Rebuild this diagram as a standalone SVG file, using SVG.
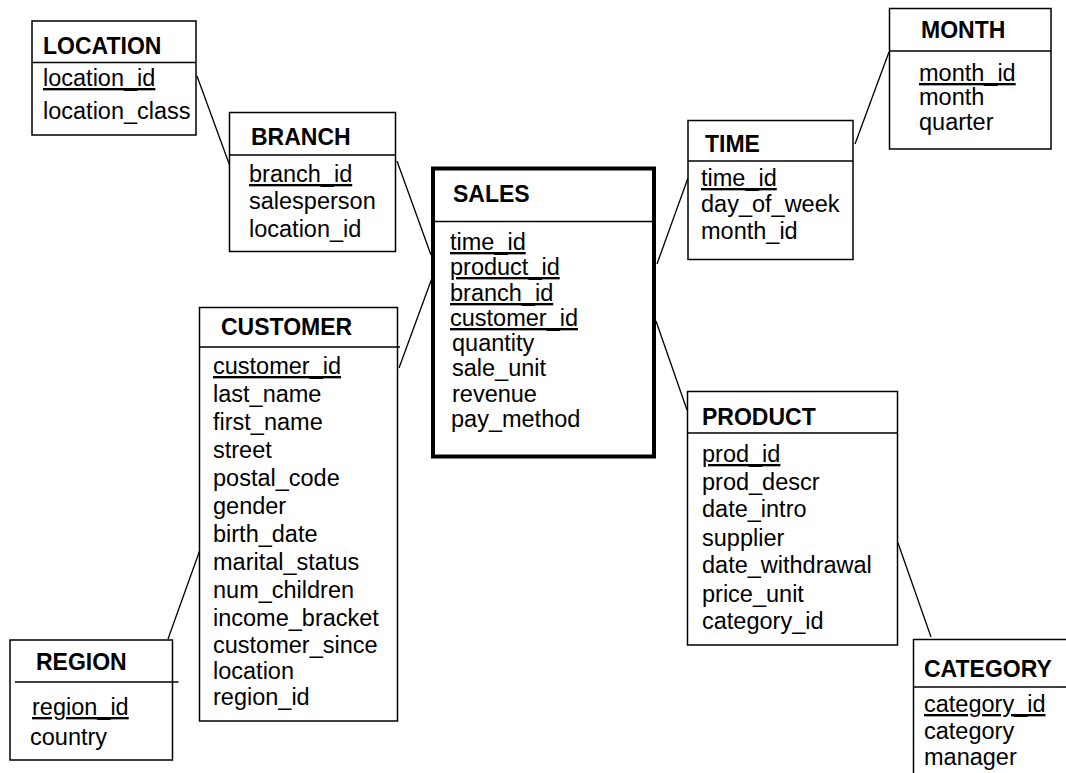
<svg xmlns="http://www.w3.org/2000/svg" width="1066" height="773" viewBox="0 0 1066 773">
<style>
.box{fill:#fff;stroke:#000;stroke-width:1.5}
.div{stroke:#000;stroke-width:1.5}
.t{font-family:"Liberation Sans",Arial,sans-serif;font-size:23px;font-weight:bold;fill:#000}
.f{font-family:"Liberation Sans",Arial,sans-serif;font-size:23.5px;fill:#000}
.k{text-decoration:underline}
.c{stroke:#000;stroke-width:1.3;fill:none}
</style>
<rect width="1066" height="773" fill="#fff"/>
<g id="connectors">
<line class="c" x1="197" y1="76" x2="231" y2="169"/>
<line class="c" x1="397" y1="161" x2="431" y2="255"/>
<line class="c" x1="399" y1="368" x2="432" y2="278"/>
<line class="c" x1="657" y1="264" x2="688" y2="178"/>
<line class="c" x1="855" y1="144" x2="889" y2="52"/>
<line class="c" x1="656" y1="321" x2="687" y2="410"/>
<line class="c" x1="201" y1="547" x2="168" y2="639"/>
<line class="c" x1="898" y1="543" x2="931" y2="637"/>
</g>
<g id="location">
<rect class="box" x="32" y="21" width="164" height="114"/>
<line class="div" x1="32" y1="62.5" x2="196" y2="62.5"/>
<text class="t" x="43" y="54">LOCATION</text>
<text class="f k" x="43" y="86">location_id</text>
<text class="f" x="43" y="119">location_class</text>
</g>
<g id="branch">
<rect class="box" x="229.5" y="112.5" width="166" height="139"/>
<line class="div" x1="229.5" y1="155" x2="395.5" y2="155"/>
<text class="t" x="251" y="145">BRANCH</text>
<text class="f k" x="249" y="182">branch_id</text>
<text class="f" x="249" y="209">salesperson</text>
<text class="f" x="249" y="237">location_id</text>
</g>
<g id="sales">
<rect x="433" y="168.5" width="221" height="288" fill="#fff" stroke="#000" stroke-width="4"/>
<line class="div" x1="433" y1="221.5" x2="654" y2="221.5"/>
<text class="t" x="453" y="202">SALES</text>
<text class="f k" x="450" y="250">time_id</text>
<text class="f k" x="450" y="275">product_id</text>
<text class="f k" x="450" y="301">branch_id</text>
<text class="f k" x="450" y="326">customer_id</text>
<text class="f" x="452" y="351">quantity</text>
<text class="f" x="452" y="376">sale_unit</text>
<text class="f" x="452" y="402">revenue</text>
<text class="f" x="451" y="427">pay_method</text>
</g>
<g id="time">
<rect class="box" x="688" y="120.5" width="165" height="139"/>
<line class="div" x1="688" y1="161" x2="853" y2="161"/>
<text class="t" x="705" y="152">TIME</text>
<text class="f k" x="701" y="186">time_id</text>
<text class="f" x="701" y="212">day_of_week</text>
<text class="f" x="701" y="239">month_id</text>
</g>
<g id="month">
<rect class="box" x="889.5" y="8.5" width="161.5" height="140.5"/>
<line class="div" x1="889.5" y1="51" x2="1051" y2="51"/>
<text class="t" x="921" y="38">MONTH</text>
<text class="f k" x="919" y="81">month_id</text>
<text class="f" x="919" y="105">month</text>
<text class="f" x="919" y="130">quarter</text>
</g>
<g id="customer">
<rect class="box" x="199.5" y="307.5" width="198" height="413.5"/>
<line class="div" x1="199.5" y1="347" x2="400" y2="347"/>
<text class="t" x="221" y="335">CUSTOMER</text>
<text class="f k" x="213" y="374">customer_id</text>
<text class="f" x="213" y="402">last_name</text>
<text class="f" x="213" y="430">first_name</text>
<text class="f" x="213" y="458">street</text>
<text class="f" x="213" y="486">postal_code</text>
<text class="f" x="213" y="514">gender</text>
<text class="f" x="213" y="542">birth_date</text>
<text class="f" x="213" y="570">marital_status</text>
<text class="f" x="213" y="598">num_children</text>
<text class="f" x="213" y="626">income_bracket</text>
<text class="f" x="213" y="653">customer_since</text>
<text class="f" x="213" y="679">location</text>
<text class="f" x="213" y="705">region_id</text>
</g>
<g id="region">
<rect class="box" x="10" y="640" width="162.5" height="120"/>
<line class="div" x1="15" y1="682" x2="178.5" y2="682"/>
<text class="t" x="36" y="670">REGION</text>
<text class="f k" x="32" y="715">region_id</text>
<text class="f" x="30" y="745">country</text>
</g>
<g id="product">
<rect class="box" x="687.5" y="391.5" width="210" height="253.5"/>
<line class="div" x1="687.5" y1="433" x2="897.5" y2="433"/>
<text class="t" x="702" y="425">PRODUCT</text>
<text class="f k" x="702" y="462">prod_id</text>
<text class="f" x="702" y="490">prod_descr</text>
<text class="f" x="702" y="517">date_intro</text>
<text class="f" x="702" y="546">supplier</text>
<text class="f" x="702" y="573">date_withdrawal</text>
<text class="f" x="702" y="602">price_unit</text>
<text class="f" x="702" y="629">category_id</text>
</g>
<g id="category">
<path class="box" d="M1070 639.5 H913.5 V776 H1070"/>
<line class="div" x1="913.5" y1="687" x2="1066" y2="687"/>
<text class="t" x="924" y="677">CATEGORY</text>
<text class="f k" x="924" y="712">category_id</text>
<text class="f" x="924" y="739">category</text>
<text class="f" x="924" y="765">manager</text>
</g>
</svg>
